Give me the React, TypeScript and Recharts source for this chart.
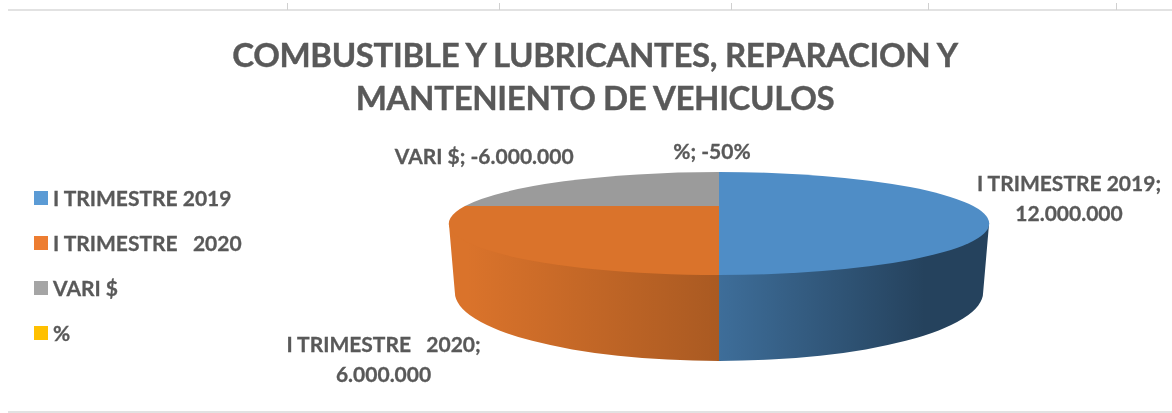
// App.tsx
import { Legend, Pie, PieChart } from 'recharts';

const categories = ['I TRIMESTRE 2019', 'I TRIMESTRE   2020', 'VARI $', '%'];
const values = [12000000, 6000000, -6000000, -0.5];
const valueLabels = ['12.000.000', '6.000.000', '-6.000.000', '-50%'];
const legendColors = ['#5B9BD5', '#ED7D31', '#A5A5A5', '#FFC000'];
const faceColors = ['#4F8DC6', '#DA732B', '#9B9B9B', '#FFC000'];
const titleLines = ['COMBUSTIBLE Y LUBRICANTES, REPARACION Y', 'MANTENIENTO DE VEHICULOS'];
const rulerTicks = [287, 499, 731, 928, 1116];

const TEXT = '#595959';
const FONT = 'Lato, "Open Sans", sans-serif';

// tilt of the disc, all relative to the radius of the pie
const TILT = 0.1793;
const PERSPECTIVE = 0.34;
const RIM_RX = 1 / Math.sqrt(1 - PERSPECTIVE * PERSPECTIVE);
const RIM_RY = TILT / (1 - PERSPECTIVE * PERSPECTIVE);
const RIM_SHIFT = RIM_RY * PERSPECTIVE;
const BASE_RX = 1.04;
const BASE_RY = 0.27;
const BASE_SHIFT = 0.34;

// label placement relative to the rim point of each slice
const labelLayout = [
  { dx: 96, dy: -15, wrap: true },
  { dx: -99, dy: 104, wrap: true },
  { dx: -90, dy: -16, wrap: false },
  { dx: -7, dy: -13, wrap: false },
];

const rimPoint = (cx: number, cy: number, r: number, deg: number) => {
  const rad = (deg * Math.PI) / 180;
  const d = 1 + PERSPECTIVE * Math.sin(rad);
  return {
    x: cx + (r * Math.cos(rad)) / d,
    y: cy - (r * TILT * Math.sin(rad)) / d,
  };
};

const shade = (hex: string, k: number) => {
  const n = parseInt(hex.slice(1), 16);
  const c = [(n >> 16) & 255, (n >> 8) & 255, n & 255].map((v) => Math.round(v * k));
  return `rgb(${c[0]},${c[1]},${c[2]})`;
};

const DiscSlice = (props: any) => {
  const { cx, cy, outerRadius: r, startAngle, endAngle, fill, index } = props;
  const a = rimPoint(cx, cy, r, startAngle);
  const b = rimPoint(cx, cy, r, endAngle);
  const rx = r * RIM_RX;
  const ry = r * RIM_RY;
  const rimY = cy + r * RIM_SHIFT;
  const large = startAngle - endAngle > 180 ? 1 : 0;
  // ry a hair short: a half-disc chord then centres the arc exactly instead of drifting
  const face = `M${cx},${cy} L${a.x},${a.y} A${rx},${ry * 0.9995} 0 ${large} 1 ${b.x},${b.y} Z`;

  // outer wall only exists on the front half of the disc
  const hi = Math.min(startAngle, 0);
  const lo = Math.max(endAngle, -180);
  let wall = null;
  if (hi > lo) {
    const top = (deg: number) => {
      if (deg === 0) return { x: cx + rx, y: rimY };
      if (deg === -180) return { x: cx - rx, y: rimY };
      return rimPoint(cx, cy, r, deg);
    };
    const drop = (p: { x: number; y: number }) => ({
      x: cx + ((p.x - cx) / rx) * r * BASE_RX,
      y: cy + r * BASE_SHIFT + ((p.y - rimY) / ry) * r * BASE_RY,
    });
    const t1 = top(hi);
    const t2 = top(lo);
    const b1 = drop(t1);
    const b2 = drop(t2);
    const id = `wall-${index}`;
    // the wall continues under the face so no seam shows along the rim
    wall = (
      <>
        <defs>
          <linearGradient id={id} gradientUnits="userSpaceOnUse" x1={cx - rx * 0.93} x2={cx + rx * 0.76} y1={0} y2={0}>
            <stop offset="0" stopColor={shade(fill, 1)} />
            <stop offset="0.547" stopColor={shade(fill, 0.78)} />
            <stop offset="1" stopColor={shade(fill, 0.47)} />
          </linearGradient>
        </defs>
        <path
          d={`M${t1.x},${t1.y} L${cx},${rimY} L${t2.x},${t2.y} L${b2.x},${b2.y} A${r * BASE_RX},${r * BASE_RY} 0 0 0 ${b1.x},${b1.y} Z`}
          fill={`url(#${id})`}
        />
      </>
    );
  }

  return (
    <g>
      {wall}
      <path d={face} fill={fill} />
    </g>
  );
};

const SliceLabel = (props: any) => {
  const { cx, cy, outerRadius, midAngle, index } = props;
  const p = rimPoint(cx, cy, outerRadius, midAngle);
  const { dx, dy, wrap } = labelLayout[index];
  const style = { whiteSpace: 'pre' as const, stroke: TEXT, strokeWidth: 0.3 };
  const x = p.x + dx;
  const y = p.y + dy;
  const common = { x, textAnchor: 'middle' as const, fill: TEXT, fontFamily: FONT, fontWeight: 700, fontSize: 21, style };
  if (wrap) {
    return (
      <g>
        <text {...common} y={y}>{`${categories[index]};`}</text>
        <text {...common} y={y + 30}>{valueLabels[index]}</text>
      </g>
    );
  }
  return <text {...common} y={y}>{`${categories[index]}; ${valueLabels[index]}`}</text>;
};

const LegendList = ({ payload }: any) => (
  <div>
    {(payload || []).map((entry: any, i: number) => (
      <div key={i} style={{ height: 45, display: 'flex', alignItems: 'center' }}>
        <span style={{ width: 14, height: 14, marginRight: 5, background: legendColors[i] }} />
        <span style={{ whiteSpace: 'pre', color: TEXT, fontFamily: FONT, fontWeight: 700, fontSize: 21, WebkitTextStroke: '0.3px #595959' }}>
          {entry.value}
        </span>
      </div>
    ))}
  </div>
);

const chartData = categories.map((name, i) => ({
  name,
  value: Math.abs(values[i]),
  fill: faceColors[i],
}));

export default function App() {
  return (
    <div style={{ position: 'relative', width: 1172, height: 413, background: '#fff', overflow: 'hidden', filter: 'blur(0.45px)' }}>
      <style>{'body{margin:0}'}</style>
      <div style={{ position: 'absolute', left: 8, right: 0, top: 9, height: 2, background: '#E2E2E2' }} />
      {rulerTicks.map((x) => (
        <div key={x} style={{ position: 'absolute', left: x, top: 3, width: 1, height: 7, background: '#D0D0D0' }} />
      ))}
      <div style={{ position: 'absolute', left: 8, right: 0, top: 411, height: 2, background: '#E2E2E2' }} />
      <div style={{ position: 'absolute', left: 0, width: 1190, top: 33, textAlign: 'center', color: TEXT, fontFamily: FONT, fontWeight: 700, fontSize: 33, lineHeight: '43px', letterSpacing: '-0.35px', WebkitTextStroke: '0.4px #595959' }}>
        {titleLines.map((line) => (
          <div key={line}>{line}</div>
        ))}
      </div>
      <PieChart width={1172} height={413} margin={{ top: 0, right: 0, bottom: 0, left: 0 }} style={{ position: 'absolute', left: 0, top: 0 }}>
        <Pie
          data={chartData}
          dataKey="value"
          nameKey="name"
          cx={719}
          cy={206}
          innerRadius={0}
          outerRadius={254}
          startAngle={90}
          endAngle={-270}
          stroke="none"
          shape={DiscSlice}
          label={SliceLabel}
          labelLine={false}
          isAnimationActive={false}
        />
        <Legend
          layout="vertical"
          align="center"
          verticalAlign="middle"
          itemSorter={null}
          content={LegendList}
          wrapperStyle={{ left: 34, top: 175, width: 240 }}
        />
      </PieChart>
    </div>
  );
}
